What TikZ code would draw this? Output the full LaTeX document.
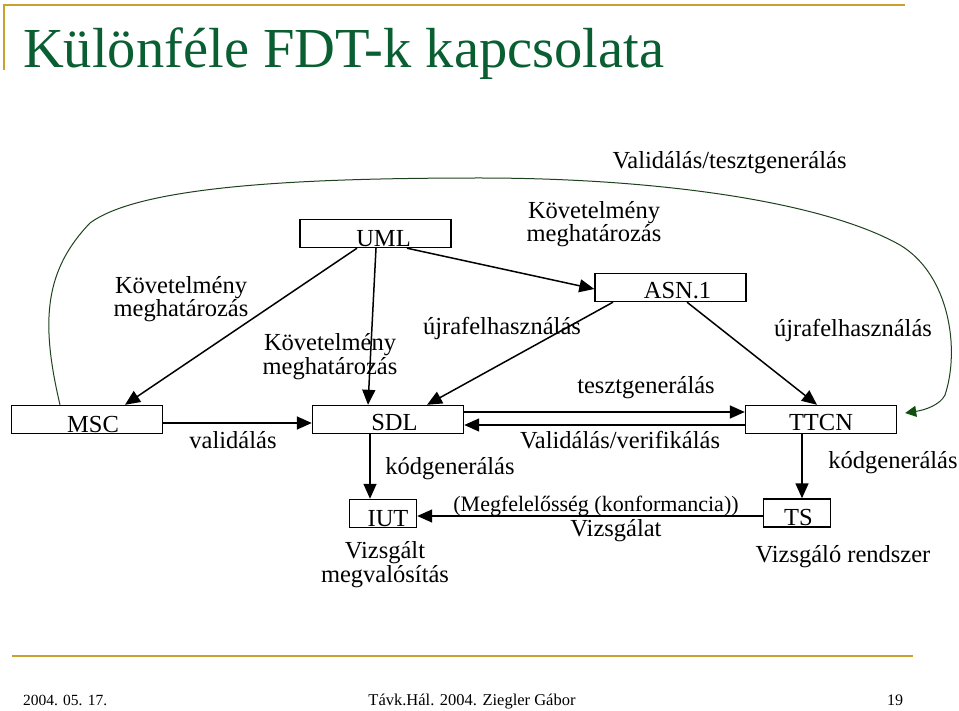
\documentclass[tikz,border=0pt]{standalone}
\usepackage{fontspec}
\setmainfont{Liberation Serif}
\usetikzlibrary{arrows.meta}
\definecolor{gold}{RGB}{201,161,45}
\definecolor{titlegreen}{RGB}{10,95,50}
\definecolor{curvegreen}{RGB}{30,65,30}
\definecolor{tipgreen}{RGB}{15,80,15}
\begin{document}
\begin{tikzpicture}[x=1pt,y=-1pt,
  box/.style={draw=black, line width=1.4pt, minimum width=151pt, minimum height=28pt, inner sep=0pt, fill=white},
  smallbox/.style={box, minimum width=67pt},
  lbl/.style={font=\fontsize{24.5}{20.5}\selectfont, inner sep=0pt, anchor=base, align=center},
  conn/.style={line width=1.5pt, -{Triangle[length=15pt,width=13pt]}},
  curveline/.style={draw=curvegreen, line width=1pt, -{Triangle[length=11pt,width=11pt,color=tipgreen]}},
  rule/.style={draw=gold, line width=2.5pt}]
\useasboundingbox (0,0) rectangle (959,711);
\fill[white] (0,0) rectangle (959,711);

% frame rules
\draw[rule] (4,5) -- (905,5);
\draw[rule, line width=2pt] (4,4) -- (4,70);
\draw[rule] (12,656) -- (913,656);

% title
\node[anchor=base west, inner sep=0pt, font=\fontsize{56.5}{60}\selectfont, text=titlegreen] (title) at (23,68) {Különféle FDT-k kapcsolata};

% boxes
\node[box] (uml) at (375.5,233.5) {};
\node[box] (msc) at (87,419.5) {};
\node[box] (sdl) at (388,419.5) {};
\node[box] (asn) at (670.5,287.5) {};
\node[box] (ttcn) at (821,419.5) {};
\node[smallbox] (iut) at (383,513.5) {};
\node[smallbox] (ts) at (797,513) {};

% box texts
\node[lbl] (umlt) at (383.5,247) {UML};
\node[lbl] (msct) at (93,432) {MSC};
\node[lbl] (sdlt) at (394.5,431) {SDL};
\node[lbl] (asnt) at (677.5,299) {ASN.1};
\node[lbl] (ttcnt) at (821,431) {TTCN};
\node[lbl] (iutt) at (388,526) {IUT};
\node[lbl] (tst) at (798.5,525) {TS};

% connectors
\draw[conn] ([xshift=-18.5pt]uml.south) -- ([xshift=38pt]msc.north);
\draw[conn] ([xshift=0.5pt]uml.south) -- ([xshift=-20pt]sdl.north);
\draw[conn] ([xshift=31.5pt]uml.south) -- ([yshift=-1.5pt]asn.west);
\draw[conn] ([xshift=-57.5pt]asn.south) -- ([xshift=39pt]sdl.north);
\draw[conn] ([xshift=16.5pt]asn.south) -- ([xshift=-4pt]ttcn.north);
\draw[conn] ([yshift=7.5pt]sdl.east) -- ([yshift=7.5pt]ttcn.west);
\draw[conn] ([yshift=-5.5pt]ttcn.west) -- ([yshift=-5.5pt]sdl.east);
\draw[conn] ([yshift=-3.5pt]msc.east) -- ([yshift=-3.5pt]sdl.west);
\draw[conn] ([xshift=-18pt]sdl.south) -- ([xshift=-13pt]iut.north);
\draw[conn] ([xshift=-19pt]ttcn.south) -- ([xshift=5pt]ts.north);
\draw[conn] ([yshift=-3pt]ts.west) -- ([yshift=-2.5pt]iut.east);

% long curve
\draw[curveline] ([xshift=-27pt]msc.north) .. controls (40,320) and (45,270) .. (90,223)
  .. controls (140,186) and (300,178) .. (480,178)
  .. controls (650,178) and (820,200) .. (900,245)
  .. controls (950,275) and (960,350) .. (945,395)
  .. controls (940,405) and (925,410) .. ([xshift=8pt,yshift=6.5pt]ttcn.east);

% labels (multi-line: base = last line)
\node[lbl] (l1) at (181,317) {Követelmény\\meghatározás};
\node[lbl] (l2) at (330,374) {Követelmény\\meghatározás};
\node[lbl] (l3) at (502,335) {újrafelhasználás};
\node[lbl] (l4) at (594,242) {Követelmény\\meghatározás};
\node[lbl] (l5) at (853,337) {újrafelhasználás};
\node[lbl] (l6) at (646,393) {tesztgenerálás};
\node[lbl] (l7) at (620,448) {Validálás/verifikálás};
\node[lbl] (l8) at (233,448) {validálás};
\node[lbl] (l9) at (450,474) {kódgenerálás};
\node[lbl] (l10) at (893,468) {kódgenerálás};
\node[lbl, font=\fontsize{22}{20.5}\selectfont] (l11) at (596,511) {(Megfelelősség (konformancia))};
\node[lbl] (l12) at (616,536) {Vizsgálat};
\node[lbl] (l13) at (385,582) {Vizsgált\\megvalósítás};
\node[lbl] (l14) at (843,562) {Vizsgáló rendszer};
\node[lbl] (l15) at (729.5,169) {Validálás/tesztgenerálás};

% footer
\node[anchor=base west, inner sep=0pt, font=\fontsize{15.5}{18}\selectfont] (date) at (23,705) {2004. 05. 17.};
\node[anchor=base, inner sep=0pt, font=\fontsize{16.5}{18}\selectfont] (author) at (472,705) {Távk.Hál. 2004. Ziegler Gábor};
\node[anchor=base, inner sep=0pt, font=\fontsize{16}{18}\selectfont] (page) at (895,705) {19};
\end{tikzpicture}
\end{document}
